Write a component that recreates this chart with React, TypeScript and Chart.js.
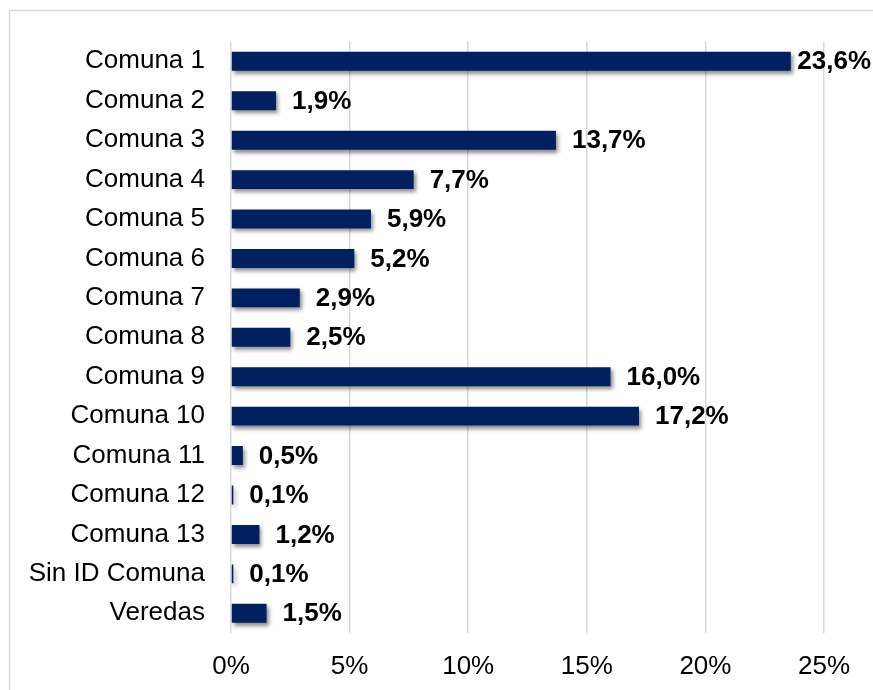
import React, { useEffect, useRef } from "react";
import { Chart, registerables } from "chart.js";

Chart.register(...registerables);

const categories = [
  "Comuna 1", "Comuna 2", "Comuna 3", "Comuna 4", "Comuna 5", "Comuna 6", "Comuna 7",
  "Comuna 8", "Comuna 9", "Comuna 10", "Comuna 11", "Comuna 12", "Comuna 13",
  "Sin ID Comuna", "Veredas",
];
const values = [23.6, 1.9, 13.7, 7.7, 5.9, 5.2, 2.9, 2.5, 16.0, 17.2, 0.5, 0.1, 1.2, 0.1, 1.5];
const xTicks = [0, 5, 10, 15, 20, 25];

const FONT = "'Liberation Sans', Arial, sans-serif";
const BAR = "#002060";
const GRID = "#d9d9d9";

const fmt = (v: number) => v.toFixed(1).replace(".", ",") + "%";

export default function App() {
  const ref = useRef<HTMLCanvasElement | null>(null);

  useEffect(() => {
    if (!ref.current) return;

    const framePlugin = {
      id: "frame",
      beforeDraw(chart: any) {
        const ctx = chart.ctx;
        ctx.save();
        ctx.strokeStyle = GRID;
        ctx.lineWidth = 1.5;
        ctx.beginPath();
        ctx.moveTo(9.5, chart.height);
        ctx.lineTo(9.5, 10.5);
        ctx.lineTo(chart.width, 10.5);
        ctx.stroke();
        ctx.restore();
      },
    };

    const shadowPlugin = {
      id: "barShadow",
      beforeDatasetsDraw(chart: any) {
        const ctx = chart.ctx;
        ctx.save();
        ctx.shadowColor = "rgba(0,0,0,0.45)";
        ctx.shadowBlur = 4;
        ctx.shadowOffsetX = 2;
        ctx.shadowOffsetY = 3;
      },
      afterDatasetsDraw(chart: any) {
        const ctx = chart.ctx;
        ctx.restore();
        const meta = chart.getDatasetMeta(0);
        ctx.save();
        ctx.font = `bold 26px ${FONT}`;
        ctx.fillStyle = "#000";
        ctx.textAlign = "left";
        ctx.textBaseline = "middle";
        meta.data.forEach((bar: any, i: number) => {
          const text = fmt(values[i]);
          const w = ctx.measureText(text).width;
          let x = bar.x + 16;
          if (x + w > chart.width - 2) x = chart.width - 2 - w;
          ctx.fillText(text, x, bar.y + 1);
        });
        ctx.restore();
      },
    };

    const chart = new Chart(ref.current, {
      type: "bar",
      data: {
        labels: categories,
        datasets: [
          {
            data: values,
            backgroundColor: BAR,
            borderWidth: 0,
            barPercentage: 0.48,
            categoryPercentage: 1,
          },
        ],
      },
      options: {
        indexAxis: "y",
        animation: false,
        responsive: false,
        maintainAspectRatio: false,
        layout: { padding: { top: 40, right: 49, bottom: 0, left: 0 } },
        plugins: {
          legend: { display: false },
          tooltip: { enabled: false },
        },
        scales: {
          x: {
            min: 0,
            max: 25,
            afterFit(scale: any) {
              scale.height = 57;
            },
            afterBuildTicks(scale: any) {
              scale.ticks = xTicks.map((v) => ({ value: v }));
            },
            grid: { color: GRID, lineWidth: 1.5, drawTicks: false },
            border: { display: false },
            ticks: {
              padding: 18,
              color: "#000",
              font: { family: FONT, size: 26 },
              callback: (v: any) => `${v}%`,
            },
          },
          y: {
            afterFit(scale: any) {
              scale.width = 231;
            },
            grid: { display: false, drawTicks: false },
            border: { display: false },
            ticks: {
              padding: 26,
              color: "#000",
              font: { family: FONT, size: 26 },
            },
          },
        },
      },
      plugins: [framePlugin, shadowPlugin],
    });

    return () => chart.destroy();
  }, []);

  return (
    <div style={{ position: "absolute", left: 0, top: 0, width: 873, height: 690, overflow: "hidden", background: "#fff" }}>
      <canvas ref={ref} width={873} height={690} style={{ display: "block", width: 873, height: 690 }} />
    </div>
  );
}
